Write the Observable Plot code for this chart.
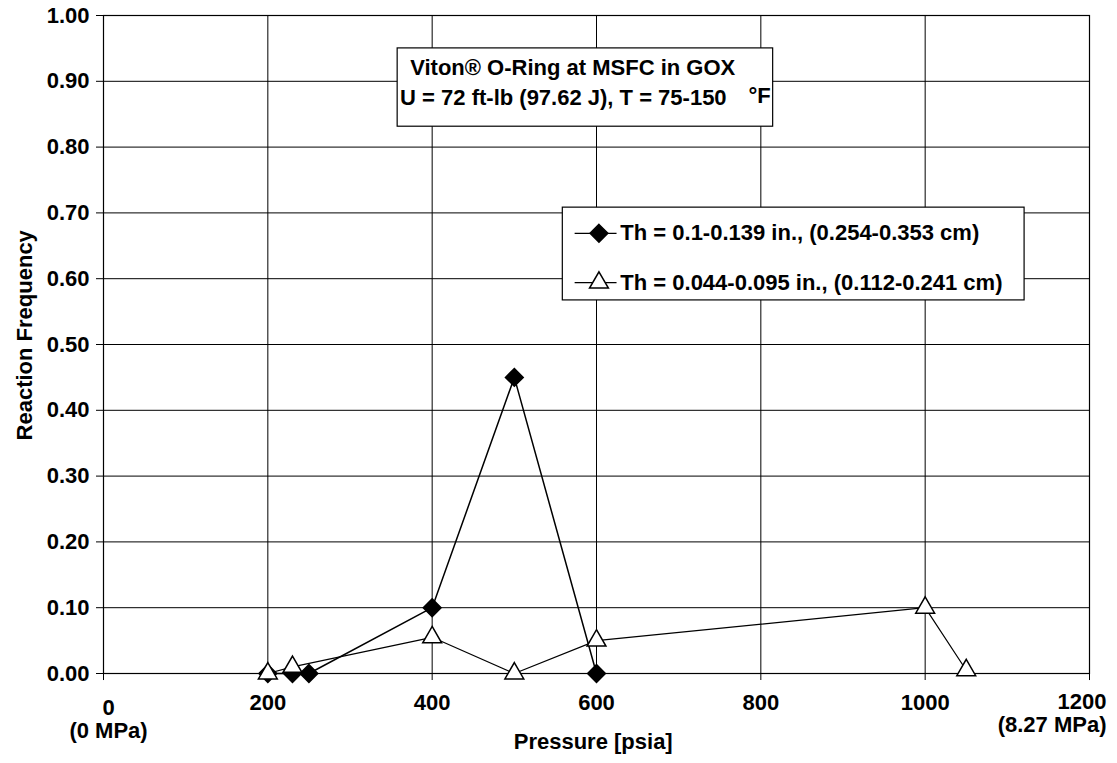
<!DOCTYPE html>
<html><head><meta charset="utf-8">
<script src="https://cdn.jsdelivr.net/npm/d3@7"></script>
<script src="https://cdn.jsdelivr.net/npm/@observablehq/plot@0.6"></script>
<style>
body{margin:0;background:#fff}
svg{font-family:"Liberation Sans",Arial,sans-serif;font-weight:bold}
</style>
</head><body><div id="chart"></div>
<script>
const pressureThick = [200, 230, 250, 400, 500, 600];
const freqThick = [0, 0, 0, 0.10, 0.45, 0];
const pressureThin = [200, 230, 400, 500, 600, 1000, 1050];
const freqThin = [0, 0.01, 0.055, 0, 0.05, 0.10, 0.005];
const xTicks = [0, 200, 400, 600, 800, 1000, 1200];
const xInnerTicks = [200, 400, 600, 800, 1000];
const yTicks = [0, 0.1, 0.2, 0.3, 0.4, 0.5, 0.6, 0.7, 0.8, 0.9, 1.0];
const seriesLabels = ["Th = 0.1-0.139 in., (0.254-0.353 cm)", "Th = 0.044-0.095 in., (0.112-0.241 cm)"];
const titleLines = ["Viton® O-Ring at MSFC in GOX", "U = 72 ft-lb (97.62 J), T = 75-150"];
const titleUnit = "°F";
const xEndLabels = ["0\n(0 MPa)", "1200\n(8.27 MPa)"];
const xTitle = "Pressure [psia]";
const yTitle = "Reaction Frequency";

const thick = pressureThick.map((p, i) => ({p, f: freqThick[i]}));
const thin = pressureThin.map((p, i) => ({p, f: freqThin[i]}));

// annotation boxes in data space
const titleBox = {x1: 358, x2: 815, y1: 0.831, y2: 0.950};
const legendBox = {x1: 559, x2: 1121, y1: 0.567, y2: 0.708};
const legendRows = [
  {y: 0.669, label: seriesLabels[0]},
  {y: 0.594, label: seriesLabels[1]}
];

const fs = 22;
const chart = Plot.plot({
  width: 1117, height: 763,
  marginLeft: 103, marginRight: 28, marginTop: 15, marginBottom: 90,
  style: {fontSize: fs + "px", fontWeight: "bold", background: "white", color: "black"},
  x: {domain: [0, 1200]},
  y: {domain: [0, 1]},
  marks: [
    Plot.gridY(yTicks, {stroke: "black", strokeOpacity: 1, strokeWidth: 1}),
    Plot.gridX(xInnerTicks, {stroke: "black", strokeOpacity: 1, strokeWidth: 1}),
    Plot.frame({stroke: "black", strokeWidth: 1.2}),
    Plot.axisY({ticks: yTicks, tickFormat: d => d.toFixed(2), tickSize: 7, tickPadding: 7, fontSize: fs, label: null}),
    Plot.axisX({ticks: xInnerTicks, tickFormat: d => String(d), tickSize: 7, tickPadding: 14, fontSize: fs, label: null}),
    Plot.ruleX([xTicks[0], xTicks[6]], {x: d => d, y1: 0, y2: -0.0107, stroke: "black", strokeWidth: 1}),
    Plot.text([xEndLabels[0]], {x: xTicks[0], y: 0, dy: 46, dx: 5, lineHeight: 1.05, fontSize: fs}),
    Plot.text([xEndLabels[1]], {x: xTicks[6], y: 0, dy: 40, dx: 17, lineHeight: 1.05, textAnchor: "end", fontSize: fs}),
    Plot.text([xTitle], {x: 596, y: 0, dy: 68, fontSize: fs}),
    Plot.text([yTitle], {x: -96, y: 0.514, rotate: -90, fontSize: fs}),
    // title box
    Plot.rect([titleBox], {x1: "x1", x2: "x2", y1: "y1", y2: "y2", fill: "white", stroke: "black", strokeWidth: 1.2}),
    Plot.text([titleLines[0]], {x: 571, y: 0.921, fontSize: fs}),
    Plot.text([titleLines[1]], {x: 361, y: 0.875, textAnchor: "start", fontSize: fs}),
    Plot.text([titleUnit], {x: 812, y: 0.877, fontSize: fs, textAnchor: "end"}),
    // data
    Plot.line(thick, {x: "p", y: "f", stroke: "black", strokeWidth: 1.5}),
    Plot.line(thin, {x: "p", y: "f", stroke: "black", strokeWidth: 1.2}),
    Plot.dot(thick, {x: "p", y: "f", symbol: "diamond2", r: 8, fill: "black", stroke: "black"}),
    Plot.dot(thin, {x: "p", y: "f", symbol: "triangle", r: 7, fill: "white", stroke: "black", strokeWidth: 1.5}),
    // legend
    Plot.rect([legendBox], {x1: "x1", x2: "x2", y1: "y1", y2: "y2", fill: "white", stroke: "black", strokeWidth: 1.2}),
    Plot.ruleY(legendRows, {y: "y", x1: 574, x2: 625, stroke: "black", strokeWidth: 1.2}),
    Plot.dot([legendRows[0]], {x: 603, y: "y", symbol: "diamond2", r: 8, fill: "black", stroke: "black"}),
    Plot.dot([legendRows[1]], {x: 603, y: "y", symbol: "triangle", r: 7, fill: "white", stroke: "black", strokeWidth: 1.5}),
    Plot.text(legendRows, {x: 629, y: "y", text: "label", textAnchor: "start", fontSize: fs})
  ]
});
document.getElementById("chart").appendChild(chart);
</script>
</body></html>
